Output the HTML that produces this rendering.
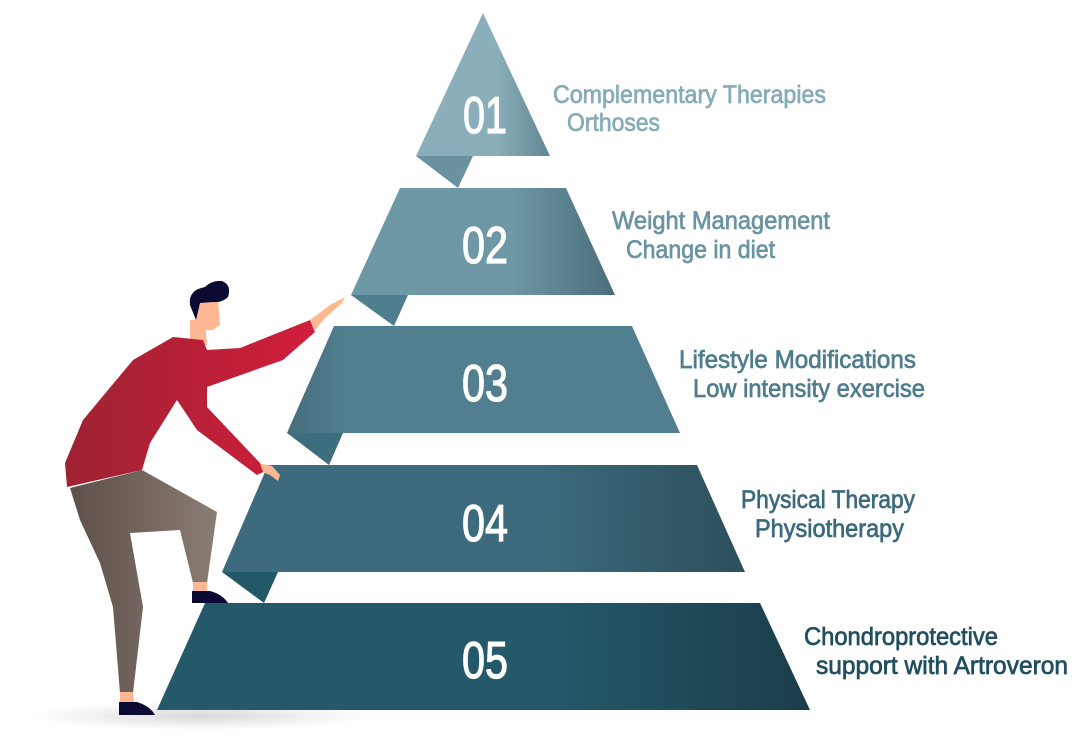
<!DOCTYPE html>
<html><head><meta charset="utf-8"><style>
html,body{margin:0;padding:0;background:#fff;}
svg{display:block;}
text{font-family:"Liberation Sans",sans-serif;}
</style></head><body>
<svg width="1080" height="744" viewBox="0 0 1080 744" xmlns="http://www.w3.org/2000/svg">
<defs>
<linearGradient id="g1" x1="0" x2="1"><stop offset="0.6" stop-color="#8AAFBA"/><stop offset="1" stop-color="#5f8793"/></linearGradient>
<linearGradient id="g2" x1="0" x2="1"><stop offset="0.6" stop-color="#6E98A5"/><stop offset="1" stop-color="#4a6e7a"/></linearGradient>
<linearGradient id="g3" x1="0" x2="1"><stop offset="0" stop-color="#456c7b"/><stop offset="0.15" stop-color="#527F8F"/><stop offset="1" stop-color="#527F8F"/></linearGradient>
<linearGradient id="g4" x1="0" x2="1"><stop offset="0.6" stop-color="#3D6B7D"/><stop offset="1" stop-color="#2c4f5c"/></linearGradient>
<linearGradient id="g5" x1="0" x2="1"><stop offset="0.6" stop-color="#255969"/><stop offset="1" stop-color="#1b3d4a"/></linearGradient>
<linearGradient id="red" x1="0" x2="1"><stop offset="0" stop-color="#9e2233"/><stop offset="1" stop-color="#d21e3b"/></linearGradient>
<linearGradient id="pant" x1="0" x2="1"><stop offset="0" stop-color="#5d4f49"/><stop offset="1" stop-color="#8a7d74"/></linearGradient>
<radialGradient id="sh" cx="0.5" cy="0.5" r="0.5"><stop offset="0" stop-color="#000" stop-opacity="0.15"/><stop offset="1" stop-color="#000" stop-opacity="0"/></radialGradient>
</defs>
<ellipse cx="200" cy="716" rx="170" ry="14" fill="url(#sh)"/>
<polygon points="416,156 473,156 458,188" fill="#6a929e"/>
<polygon points="351,295 408,295 394,326" fill="#4f7f8f"/>
<polygon points="287,433 343,433 329,465" fill="#3d6e80"/>
<polygon points="222,572 278,572 264,603" fill="#235868"/>
<polygon points="483,13 550,156 416,156" fill="url(#g1)"/>
<polygon points="400,188 566,188 615,295 351,295" fill="url(#g2)"/>
<polygon points="334,326 632,326 680,433 287,433" fill="url(#g3)"/>
<polygon points="268,465 697,465 745,572 222,572" fill="url(#g4)"/>
<polygon points="205,603 760,603 810,710 157,710" fill="url(#g5)"/>
<g fill="#fff" stroke="#fff" stroke-width="1.2" font-size="52" text-anchor="middle">
<text x="485" y="133" textLength="44" lengthAdjust="spacingAndGlyphs">01</text>
<text x="485" y="263" textLength="46" lengthAdjust="spacingAndGlyphs">02</text>
<text x="485" y="401" textLength="46" lengthAdjust="spacingAndGlyphs">03</text>
<text x="485" y="541" textLength="46" lengthAdjust="spacingAndGlyphs">04</text>
<text x="485" y="678" textLength="46" lengthAdjust="spacingAndGlyphs">05</text>
</g>
<g font-size="25" stroke-width="0.7">
<text x="553" y="103" fill="#86acb8" stroke="#86acb8" textLength="273" lengthAdjust="spacingAndGlyphs">Complementary Therapies</text>
<text x="567" y="131" fill="#86acb8" stroke="#86acb8" textLength="93" lengthAdjust="spacingAndGlyphs">Orthoses</text>
<text x="612" y="229" fill="#6a94a2" stroke="#6a94a2" textLength="218" lengthAdjust="spacingAndGlyphs">Weight Management</text>
<text x="626" y="258" fill="#6a94a2" stroke="#6a94a2" textLength="149" lengthAdjust="spacingAndGlyphs">Change in diet</text>
<text x="679" y="368" fill="#507d8d" stroke="#507d8d" textLength="237" lengthAdjust="spacingAndGlyphs">Lifestyle Modifications</text>
<text x="693" y="397" fill="#507d8d" stroke="#507d8d" textLength="232" lengthAdjust="spacingAndGlyphs">Low intensity exercise</text>
<text x="741" y="508" fill="#3c697b" stroke="#3c697b" textLength="174" lengthAdjust="spacingAndGlyphs">Physical Therapy</text>
<text x="755" y="537" fill="#3c697b" stroke="#3c697b" textLength="149" lengthAdjust="spacingAndGlyphs">Physiotherapy</text>
<text x="804" y="645" fill="#224f5f" stroke="#224f5f" textLength="194" lengthAdjust="spacingAndGlyphs">Chondroprotective</text>
<text x="816" y="674" fill="#224f5f" stroke="#224f5f" textLength="252" lengthAdjust="spacingAndGlyphs">support with Artroveron</text>
</g>
<polygon points="310,320 330,305 345,297 342,303 325,318 315,330" fill="#fdb892"/>
<polygon points="258,463 272,466 280,475 278,481 270,475 262,472" fill="#fdb892"/>
<polygon points="190,320 205,320 207,345 190,345" fill="#fdb892"/>
<path d="M195,300 L218,300 L220,325 L213,330 L200,330 L195,318 Z" fill="#fdb892"/>
<path d="M190,305 Q188,290 205,287 Q212,280 222,281 Q232,285 228,297 Q222,303 213,302 L200,303 L196,320 Z" fill="#0a0a33"/>
<polygon points="67,487 65,463 83,420 133,360 173,337 203,340 207,350 240,348 310,320 315,332 283,360 207,387 207,407 260,463 263,472 257,475 197,430 177,400 150,443 142,470" fill="url(#red)"/>
<polygon points="70,488 142,470 217,512 207,583 193,583 180,530 130,533 143,607 133,693 120,693 113,607 100,563 80,520" fill="url(#pant)"/>
<polygon points="193,582 207,582 207,592 193,592" fill="#fdb892"/>
<polygon points="120,692 133,692 134,702 120,702" fill="#fdb892"/>
<path d="M192,591 L210,591 Q222,594 228,603 L192,603 Z" fill="#0a0a33"/>
<path d="M119,702 L137,702 Q150,706 155,715 L119,715 Z" fill="#0a0a33"/>
</svg>
</body></html>
